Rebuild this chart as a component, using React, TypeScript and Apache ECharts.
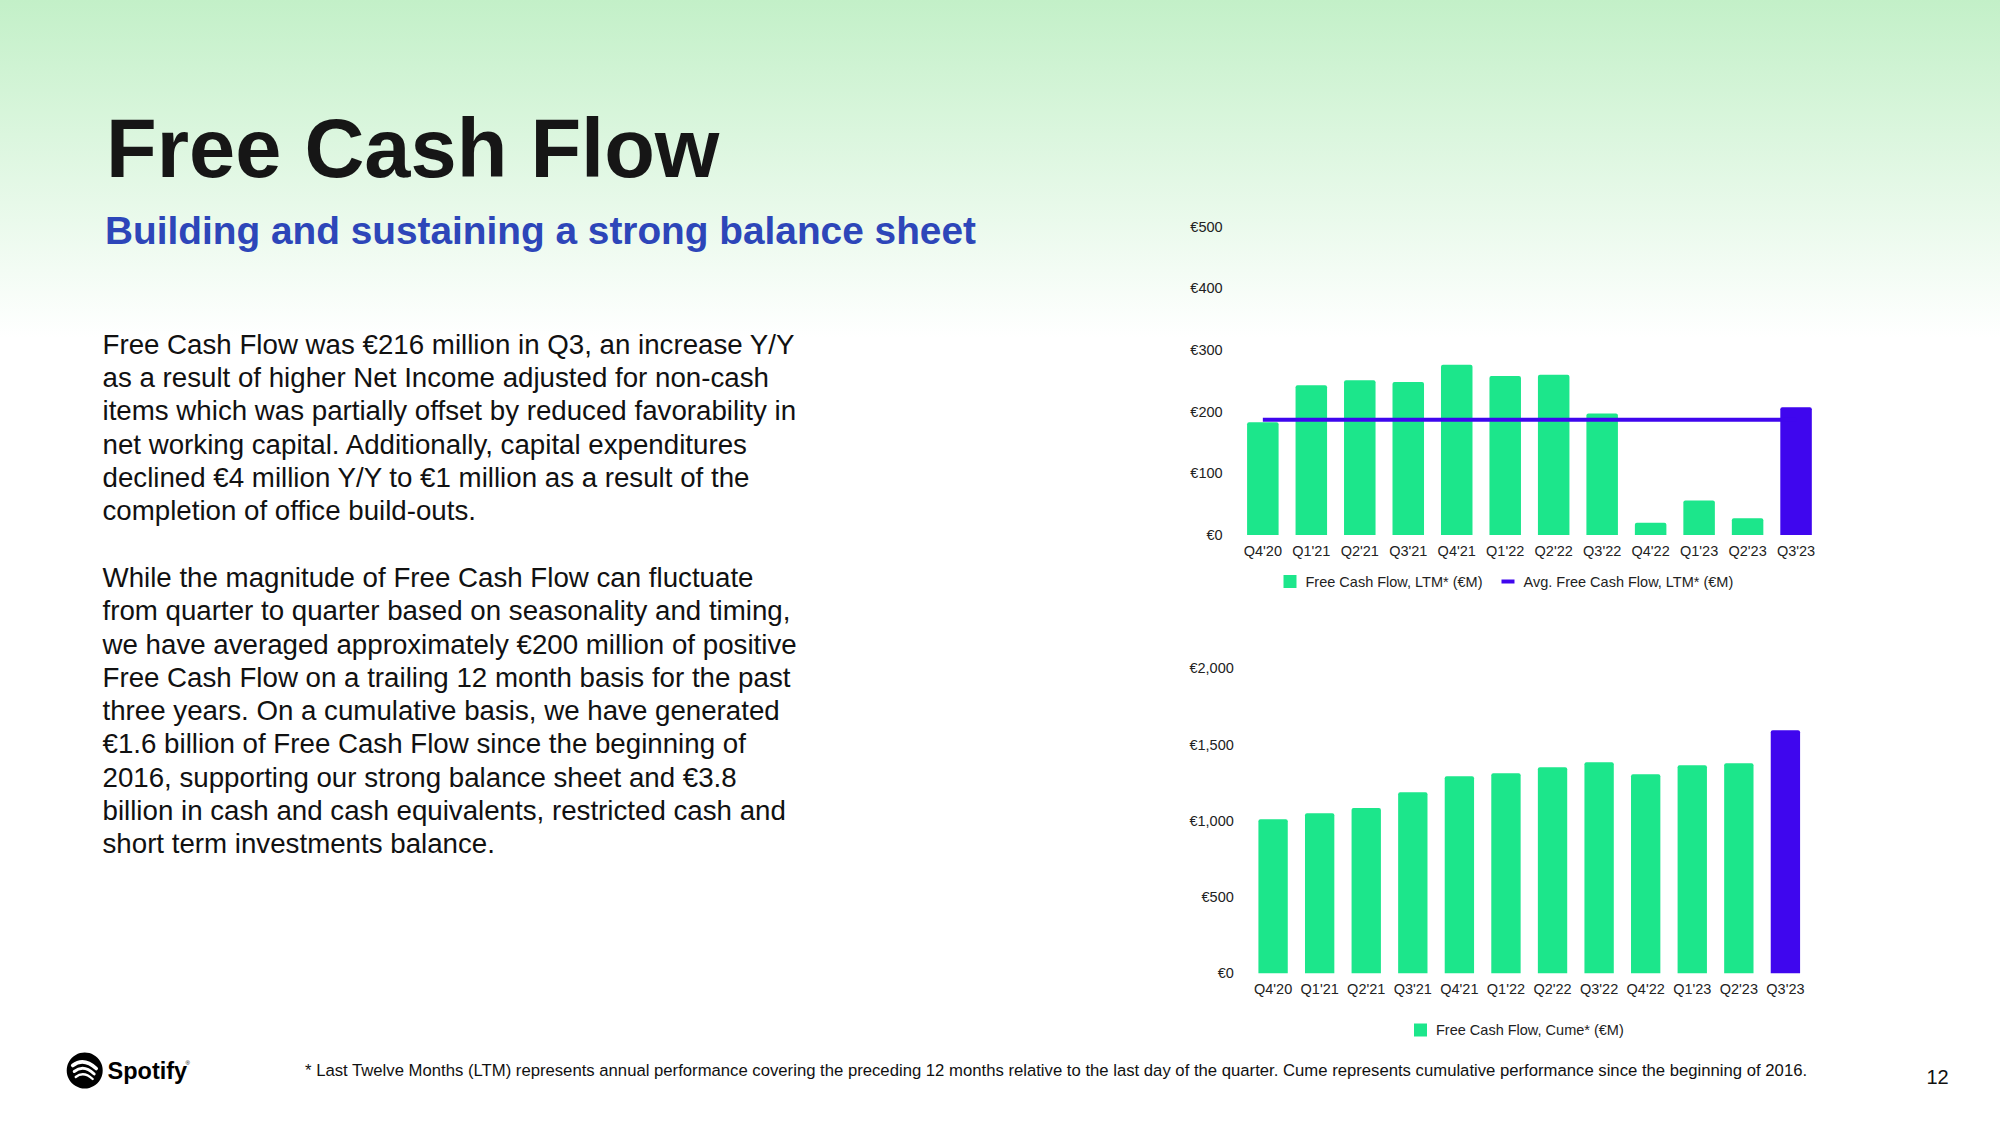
import React, { useEffect, useRef } from "react";
import * as echarts from "echarts";

const quarters = ["Q4'20", "Q1'21", "Q2'21", "Q3'21", "Q4'21", "Q1'22", "Q2'22", "Q3'22", "Q4'22", "Q1'23", "Q2'23", "Q3'23"];
const fcfLtm = [183, 243, 251, 248, 276, 258, 260, 197, 20, 56, 27, 207];
const avgFcfLtm = [187, 187, 187, 187, 187, 187, 187, 187, 187, 187, 187, 187];
const fcfCume = [1010, 1049, 1084, 1187, 1292, 1311, 1351, 1384, 1305, 1364, 1377, 1593];
const ltmAxis = { min: 0, max: 500, interval: 100 };
const cumeAxis = { min: 0, max: 2000, interval: 500 };

const seriesNames = {
  ltm: "Free Cash Flow, LTM* (€M)",
  avg: "Avg. Free Cash Flow, LTM* (€M)",
  cume: "Free Cash Flow, Cume* (€M)",
};

const title = "Free Cash Flow";
const subtitle = "Building and sustaining a strong balance sheet";
const bodyLines = [
  "Free Cash Flow was €216 million in Q3, an increase Y/Y",
  "as a result of higher Net Income adjusted for non-cash",
  "items which was partially offset by reduced favorability in",
  "net working capital. Additionally, capital expenditures",
  "declined €4 million Y/Y to €1 million as a result of the",
  "completion of office build-outs.",
  "",
  "While the magnitude of Free Cash Flow can fluctuate",
  "from quarter to quarter based on seasonality and timing,",
  "we have averaged approximately €200 million of positive",
  "Free Cash Flow on a trailing 12 month basis for the past",
  "three years. On a cumulative basis, we have generated",
  "€1.6 billion of Free Cash Flow since the beginning of",
  "2016, supporting our strong balance sheet and €3.8",
  "billion in cash and cash equivalents, restricted cash and",
  "short term investments balance.",
];
const footnote =
  "* Last Twelve Months (LTM) represents annual performance covering the preceding 12 months relative to the last day of the quarter. Cume represents cumulative performance since the beginning of 2016.";
const pageNumber = "12";

const GREEN = "#1ce68b";
const PURPLE = "#3f06ee";
const FONT = "'Liberation Sans', Arial, Helvetica, sans-serif";
const LABEL = "#222222";
const SQUARE_ICON = "path://M0,0M21,13M4,0H17V13H4Z";
const LINE_ICON = "path://M0,0M21,13M4,4.5H17V8.5H4Z";

function highlightLast(values: number[]) {
  return values.map((v, i) =>
    i === values.length - 1 ? { value: v, itemStyle: { color: PURPLE } } : v
  );
}

function euro(v: number) {
  return "€" + v.toLocaleString("en-US");
}

function textStyle(extra: any) {
  const align = extra.align || "left";
  const va = extra.verticalAlign || "middle";
  return {
    fontFamily: FONT,
    ...extra,
    align,
    verticalAlign: va,
    textAlign: align,
    textVerticalAlign: va,
  };
}

export default function App() {
  const ref = useRef<HTMLDivElement>(null);

  useEffect(() => {
    if (!ref.current) return;
    const chart = echarts.init(ref.current, null, { renderer: "svg" });

    const axisLabelX = { fontSize: 14.5, color: LABEL, fontFamily: FONT, margin: 8.5, interval: 0 };
    const axisLabelY = { fontSize: 14.5, color: LABEL, fontFamily: FONT, margin: 16, formatter: euro };

    const option: any = {
      animation: false,
      graphic: [
        {
          type: "rect",
          z: -10,
          silent: true,
          shape: { x: 0, y: 0, width: 2000, height: 1125 },
          style: {
            fill: new echarts.graphic.LinearGradient(0, 0, 0, 1, [
              { offset: 0, color: "#c3f0c8" },
              { offset: 0.3, color: "#ffffff" },
              { offset: 1, color: "#ffffff" },
            ]),
          },
        },
        {
          type: "text",
          x: 106,
          y: 148.5,
          style: textStyle({ text: title, fill: "#161616", fontSize: 83, fontWeight: "bold" }),
        },
        {
          type: "text",
          x: 105,
          y: 230.5,
          style: textStyle({ text: subtitle, fill: "#2d46b9", fontSize: 38.8, fontWeight: "bold" }),
        },
        {
          type: "text",
          x: 102.5,
          y: 327.7,
          style: textStyle({
            text: bodyLines.join("\n"),
            fill: "#111111",
            fontSize: 27.7,
            lineHeight: 33.3,
            verticalAlign: "top",
          }),
        },
        {
          type: "text",
          x: 305,
          y: 1070,
          style: textStyle({ text: footnote, fill: "#111111", fontSize: 16.7 }),
        },
        {
          type: "text",
          x: 1937.5,
          y: 1077,
          style: textStyle({ text: pageNumber, fill: "#111111", fontSize: 20, align: "center" }),
        },
        {
          type: "group",
          x: 84.7,
          y: 1070.5,
          children: [
            { type: "circle", shape: { cx: 0, cy: 0, r: 18 }, style: { fill: "#000000" } },
            {
              type: "bezierCurve",
              shape: { x1: -12, y1: -5, cpx1: -1, cpy1: -13.5, x2: 11.5, y2: -2 },
              style: { stroke: "#ffffff", lineWidth: 3.6, lineCap: "round", fill: null },
            },
            {
              type: "bezierCurve",
              shape: { x1: -10.5, y1: 1, cpx1: -1, cpy1: -6.6, x2: 9.5, y2: 3.5 },
              style: { stroke: "#ffffff", lineWidth: 2.9, lineCap: "round", fill: null },
            },
            {
              type: "bezierCurve",
              shape: { x1: -9, y1: 6.5, cpx1: -1, cpy1: 0.1, x2: 8, y2: 8.5 },
              style: { stroke: "#ffffff", lineWidth: 2.3, lineCap: "round", fill: null },
            },
          ],
        },
        {
          type: "text",
          x: 107.5,
          y: 1071,
          style: textStyle({ text: "Spotify", fill: "#000000", fontSize: 23.5, fontWeight: "bold" }),
        },
        {
          type: "text",
          x: 185.5,
          y: 1063,
          style: textStyle({ text: "®", fill: "#000000", fontSize: 6 }),
        },
      ],
      legend: [
        {
          left: 1274.5,
          top: 569,
          itemWidth: 21,
          itemHeight: 13,
          itemGap: 15,
          textStyle: { fontSize: 14.5, color: LABEL, fontFamily: FONT },
          data: [
            { name: seriesNames.ltm, icon: SQUARE_ICON },
            { name: seriesNames.avg, icon: LINE_ICON },
          ],
        },
        {
          left: 1405,
          top: 1017.5,
          itemWidth: 21,
          itemHeight: 13,
          textStyle: { fontSize: 14.5, color: LABEL, fontFamily: FONT },
          data: [{ name: seriesNames.cume, icon: SQUARE_ICON }],
        },
      ],
      grid: [
        { left: 1238.6, right: 179.7, top: 226.7, bottom: 590, containLabel: false },
        { left: 1249.8, right: 191.3, top: 668.3, bottom: 151.7, containLabel: false },
      ],
      xAxis: [
        {
          type: "category",
          gridIndex: 0,
          data: quarters,
          axisLine: { show: false },
          axisTick: { show: false },
          axisLabel: axisLabelX,
        },
        {
          type: "category",
          gridIndex: 1,
          data: quarters,
          axisLine: { show: false },
          axisTick: { show: false },
          axisLabel: { ...axisLabelX, margin: 8 },
        },
      ],
      yAxis: [
        {
          type: "value",
          gridIndex: 0,
          ...ltmAxis,
          splitLine: { show: false },
          axisLine: { show: false },
          axisTick: { show: false },
          axisLabel: axisLabelY,
        },
        {
          type: "value",
          gridIndex: 1,
          ...cumeAxis,
          splitLine: { show: false },
          axisLine: { show: false },
          axisTick: { show: false },
          axisLabel: axisLabelY,
        },
      ],
      series: [
        {
          name: seriesNames.ltm,
          type: "bar",
          xAxisIndex: 0,
          yAxisIndex: 0,
          data: highlightLast(fcfLtm),
          barCategoryGap: "35%",
          itemStyle: { color: GREEN, borderRadius: [2, 2, 0, 0] },
          z: 2,
        },
        {
          name: seriesNames.avg,
          type: "line",
          xAxisIndex: 0,
          yAxisIndex: 0,
          data: avgFcfLtm,
          symbol: "none",
          lineStyle: { color: PURPLE, width: 4 },
          itemStyle: { color: PURPLE },
          z: 3,
        },
        {
          name: seriesNames.cume,
          type: "bar",
          xAxisIndex: 1,
          yAxisIndex: 1,
          data: highlightLast(fcfCume),
          barCategoryGap: "37%",
          itemStyle: { color: GREEN, borderRadius: [2, 2, 0, 0] },
          z: 2,
        },
      ],
    };

    chart.setOption(option);
    return () => chart.dispose();
  }, []);

  return (
    <div
      ref={ref}
      style={{ position: "fixed", left: 0, top: 0, width: 2000, height: 1125, background: "#ffffff" }}
    />
  );
}
